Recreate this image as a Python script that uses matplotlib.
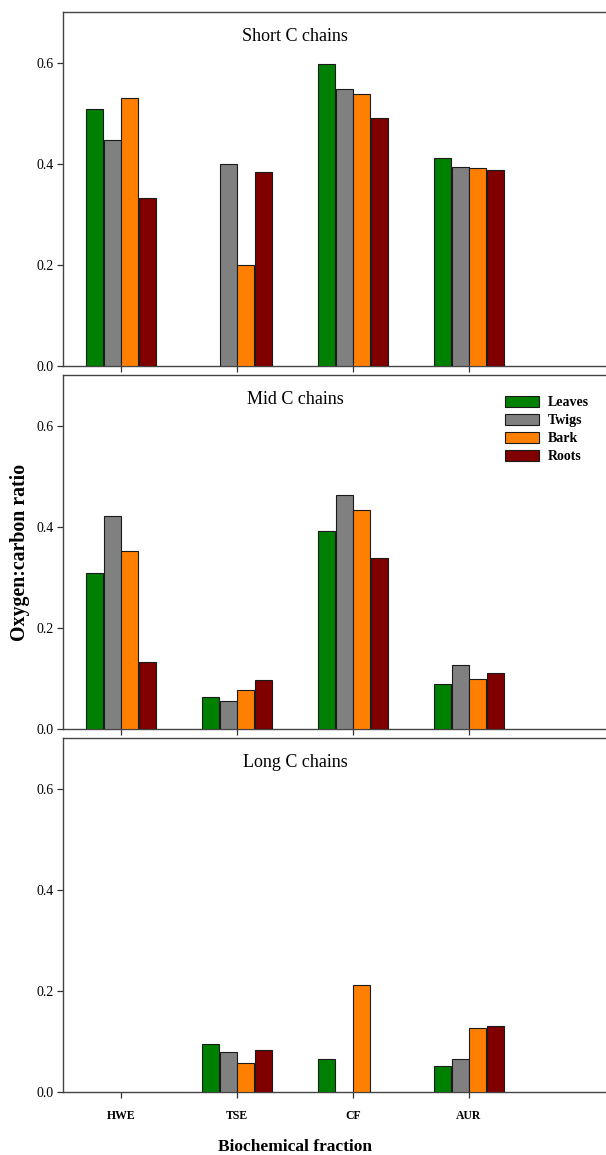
import matplotlib
matplotlib.use("Agg")
import matplotlib.pyplot as plt
import numpy as np

fractions = ["HWE", "TSE", "CF", "AUR"]
tissues = ["Leaves", "Twigs", "Bark", "Roots"]
colors = ["#008000", "#808080", "#ff8000", "#800000"]

# O:C ratio per tissue (rows: Leaves, Twigs, Bark, Roots), columns follow fractions; nan = no bar
short_c = [
    [0.508, np.nan, 0.598, 0.411],
    [0.446, 0.400, 0.548, 0.393],
    [0.529, 0.200, 0.537, 0.391],
    [0.332, 0.383, 0.491, 0.388],
]
mid_c = [
    [0.308, 0.064, 0.391, 0.089],
    [0.422, 0.056, 0.463, 0.127],
    [0.352, 0.078, 0.433, 0.098],
    [0.133, 0.096, 0.339, 0.110],
]
long_c = [
    [np.nan, 0.094, 0.065, 0.051],
    [np.nan, 0.080, np.nan, 0.065],
    [np.nan, 0.057, 0.211, 0.127],
    [np.nan, 0.084, np.nan, 0.130],
]
panels = [("Short C chains", short_c), ("Mid C chains", mid_c), ("Long C chains", long_c)]

plt.rcParams["font.family"] = ["Liberation Serif", "DejaVu Serif"]

W, H = 606, 1155
fig = plt.figure(figsize=(W / 100, H / 100), dpi=100)

tops = [12, 375, 738]
ph = 354
x = np.arange(len(fractions))
bw = 0.145
offsets = [-0.225, -0.075, 0.075, 0.225]

axes = []
for i, (title, data) in enumerate(panels):
    ax = fig.add_axes([63 / W, 1 - (tops[i] + ph) / H, 580 / W, ph / H])
    axes.append(ax)
    for j, tissue in enumerate(tissues):
        ax.bar(x + offsets[j], data[j], width=bw, color=colors[j],
               edgecolor="#1a1a1a", linewidth=0.8, label=tissue, zorder=3)
    ax.set_xlim(-0.5, 4.5)
    ax.set_ylim(0, 0.7)
    ax.set_yticks([0.0, 0.2, 0.4, 0.6])
    ax.set_yticklabels(["0.0", "0.2", "0.4", "0.6"], fontsize=10)
    ax.set_xticks(x)
    if i == 2:
        ax.set_xticklabels(fractions, fontsize=8.5, fontweight="bold")
    else:
        ax.set_xticklabels([])
    ax.tick_params(direction="out", length=4, width=0.9, colors="#333333",
                   labelcolor="black", pad=3)
    ax.tick_params(axis="x", pad=9)
    ax.spines["right"].set_visible(False)
    for s in ["left", "top", "bottom"]:
        ax.spines[s].set_linewidth(1.0)
        ax.spines[s].set_color("#444444")
    ax.text(1.5, 0.652, title, ha="center", va="center", fontsize=13)

leg = axes[1].legend(loc="upper left", bbox_to_anchor=(505 / W, 1 - 396 / H),
                     bbox_transform=fig.transFigure, frameon=False,
                     borderaxespad=0, borderpad=0, handlelength=2.45,
                     handleheight=0.8, handletextpad=0.6, labelspacing=0.35,
                     prop={"size": 10, "weight": "bold"})

fig.text(20 / W, 1 - 552 / H, "Oxygen:carbon ratio", rotation=90,
         ha="center", va="center", fontsize=14.3, fontweight="bold")
fig.text(295 / W, 1 - 1147 / H, "Biochemical fraction",
         ha="center", va="center", fontsize=12.5, fontweight="bold")

fig.savefig("out.png", dpi=100)
